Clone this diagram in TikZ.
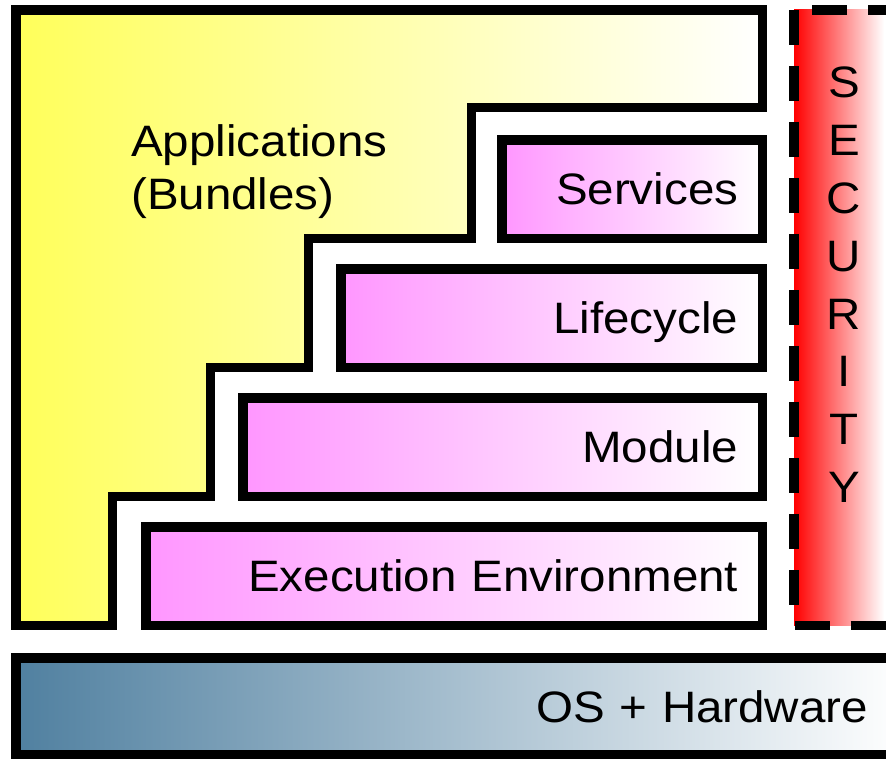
\documentclass[tikz,border=0pt]{standalone}
\usepackage{fontspec}
\setmainfont[FakeStretch=1.08]{Liberation Sans}
\usetikzlibrary{positioning}

\definecolor{appyellow}{RGB}{255,255,90}
\definecolor{layerpink}{RGB}{255,150,255}
\definecolor{secred}{RGB}{255,0,0}
\definecolor{osblue}{RGB}{80,128,160}

\begin{document}
\begin{tikzpicture}[
    x=1pt, y=-1pt,
    frame/.style={draw, line width=9.5pt},
    layer/.style={frame, rectangle, left color=layerpink, right color=white, minimum height=98.5pt, inner xsep=24pt, inner ysep=0pt, align=right, text depth=0pt, font=\fontsize{44}{50}\selectfont},
    label/.style={inner sep=0pt, font=\fontsize{44}{53}\selectfont}
]
    \clip (0,0) rectangle (886,758);

    % applications
    \shade[frame, left color=appyellow, right color=white] (15.75,9.75) -- (762.25,9.75) -- (762.25,107.25) -- (471.25,107.25) -- (471.25,238.25) -- (308.25,238.25) -- (308.25,367.25) -- (210.25,367.25) -- (210.25,496.25) -- (112.25,496.25) -- (112.25,625.25) -- (15.75,625.25) -- cycle;
    \node[label, align=left, anchor=west] (apps) at (131,172) {Applications\\(Bundles)};

    % framework layers
    \node[layer, text width=212.5pt, anchor=north east] (serv) at (767,135) {Services};
    \node[layer, text width=373.5pt, below=21pt of serv.south east, anchor=north east] (life) {Lifecycle};
    \node[layer, text width=471.5pt, below=21pt of life.south east, anchor=north east] (mod) {Module};
    \node[layer, text width=568.5pt, below=21pt of mod.south east, anchor=north east] (exec) {Execution Environment};

    % security
    \shade[left color=secred, middle color=secred!30!white, right color=white] (794,9.75) rectangle (884,625.25);
    \draw[line width=9.5pt, dash pattern=on 35pt off 21pt] (794,9.75) -- (794,625.25) -- (905,625.25) -- (905,9.75) -- cycle;
    \node[label, align=center, anchor=north, font=\fontsize{44}{57.8}\selectfont] (sec) at (844,67) {S\\E\\C\\U\\R\\I\\T\\Y};

    % os
    \node[frame, left color=osblue, right color=white, anchor=north west, minimum height=97.25pt, inner xsep=37pt, inner ysep=0pt, text width=815.25pt, align=right, text depth=0pt, font=\fontsize{44}{50}\selectfont] (os) at (11,653) {OS + Hardware};
\end{tikzpicture}
\end{document}
